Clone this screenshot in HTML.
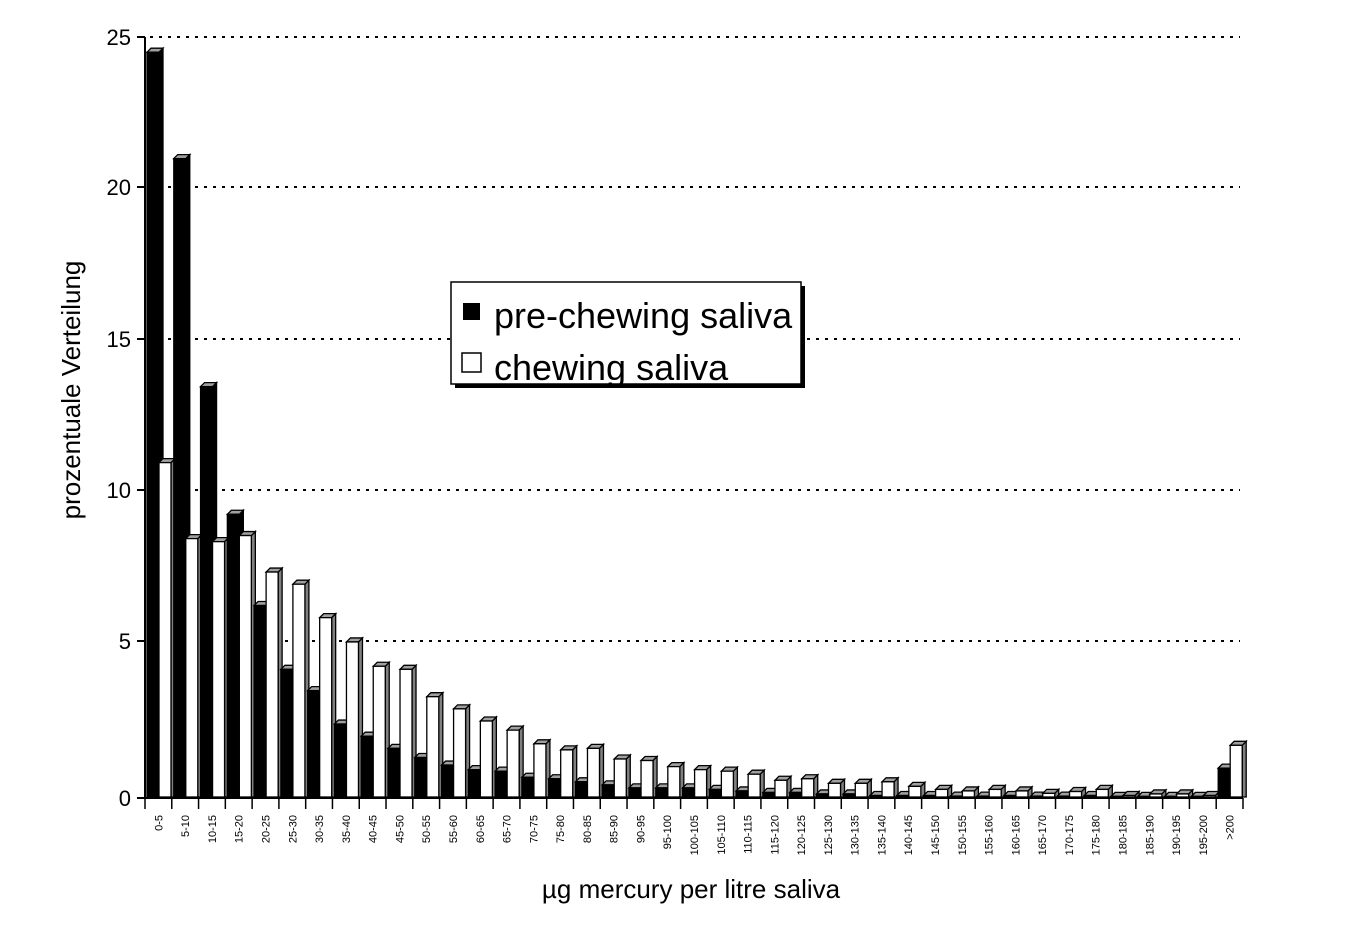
<!DOCTYPE html>
<html><head><meta charset="utf-8"><style>
html,body{margin:0;padding:0;background:#fff;}
svg{display:block;font-family:"Liberation Sans",Arial,sans-serif;}
</style></head><body>
<svg width="1350" height="943" viewBox="0 0 1350 943" xmlns="http://www.w3.org/2000/svg">
<g stroke="#000" stroke-width="2" stroke-dasharray="3,6">
<line x1="150" y1="37" x2="1240" y2="37"/>
<line x1="150" y1="187" x2="1240" y2="187"/>
<line x1="150" y1="339" x2="1240" y2="339"/>
<line x1="150" y1="490" x2="1240" y2="490"/>
<line x1="150" y1="641" x2="1240" y2="641"/>
</g>
<g id="bars"></g>
<g stroke="#000" stroke-width="2">
<line x1="145" y1="37" x2="145" y2="798"/>
<line x1="145" y1="798" x2="1243" y2="798"/>
<line x1="137" y1="37" x2="145" y2="37"/>
<line x1="137" y1="187" x2="145" y2="187"/>
<line x1="137" y1="339" x2="145" y2="339"/>
<line x1="137" y1="490" x2="145" y2="490"/>
<line x1="137" y1="641" x2="145" y2="641"/>
<line x1="137" y1="798" x2="145" y2="798"/>
</g>
<g id="ticks" stroke="#000" stroke-width="1.5"></g>
<g font-size="22" text-anchor="end">
<text x="131" y="45">25</text><text x="131" y="195">20</text><text x="131" y="347">15</text>
<text x="131" y="498">10</text><text x="131" y="649">5</text><text x="131" y="806">0</text>
</g>
<text transform="translate(80,390) rotate(-90)" font-size="26" text-anchor="middle">prozentuale Verteilung</text>
<text x="691" y="898" font-size="26" text-anchor="middle">µg mercury per litre saliva</text>
<g font-size="11" text-anchor="end" id="xl">
<text>0-5</text><text>5-10</text><text>10-15</text><text>15-20</text><text>20-25</text><text>25-30</text><text>30-35</text><text>35-40</text><text>40-45</text><text>45-50</text><text>50-55</text><text>55-60</text><text>60-65</text><text>65-70</text><text>70-75</text><text>75-80</text><text>80-85</text><text>85-90</text><text>90-95</text><text>95-100</text><text>100-105</text><text>105-110</text><text>110-115</text><text>115-120</text><text>120-125</text><text>125-130</text><text>130-135</text><text>135-140</text><text>140-145</text><text>145-150</text><text>150-155</text><text>155-160</text><text>160-165</text><text>165-170</text><text>170-175</text><text>175-180</text><text>180-185</text><text>185-190</text><text>190-195</text><text>195-200</text><text>&gt;200</text>
</g>
<rect x="455" y="286" width="350" height="102" fill="#000"/>
<rect x="451" y="282" width="350" height="102" fill="#fff" stroke="#000" stroke-width="1.5"/>
<rect x="463" y="303" width="17" height="17" fill="#000"/>
<rect x="462" y="353" width="19" height="19" fill="#fff" stroke="#000" stroke-width="1.5"/>
<text x="494" y="328" font-size="36">pre-chewing saliva</text>
<text x="494" y="380" font-size="36">chewing saliva</text>
<script>
var A=[24.5,21,13.5,9.3,6.3,4.2,3.5,2.4,2.0,1.6,1.3,1.05,0.9,0.85,0.65,0.6,0.5,0.4,0.3,0.3,0.3,0.25,0.2,0.15,0.15,0.1,0.1,0.05,0.05,0.05,0.03,0.03,0.05,0.03,0.03,0.05,0.02,0.02,0.02,0.02,0.95];
var B=[11,8.5,8.4,8.6,7.4,7.0,5.9,5.1,4.3,4.2,3.3,2.9,2.5,2.2,1.75,1.55,1.6,1.25,1.2,1.0,0.9,0.85,0.75,0.55,0.6,0.45,0.45,0.5,0.35,0.25,0.2,0.25,0.2,0.12,0.18,0.25,0.05,0.1,0.1,0.05,1.7];
var ns="http://www.w3.org/2000/svg",g=document.getElementById("bars"),tk=document.getElementById("ticks");
function el(p,t,a){var e=document.createElementNS(ns,t);for(var k in a)e.setAttribute(k,a[k]);p.appendChild(e);return e;}
function bar(x,w,v,fill){var y=797-v*30.4,d=4;
el(g,"polygon",{points:(x+w)+","+y+" "+(x+w+d)+","+(y-d)+" "+(x+w+d)+",797 "+(x+w)+",797",fill:fill=="#000"?"#000":"#808080",stroke:"#000","stroke-width":1.3});
el(g,"polygon",{points:x+","+y+" "+(x+d)+","+(y-d)+" "+(x+w+d)+","+(y-d)+" "+(x+w)+","+y,fill:"#a0a0a0",stroke:"#000","stroke-width":1.3});
el(g,"rect",{x:x,y:y,width:w,height:797-y,fill:fill,stroke:"#000","stroke-width":1.3});}
var s=26.78,labs=document.getElementById("xl").children;
for(var i=0;i<41;i++){var t=145+s*i;
bar(t+2,12,A[i],"#000");bar(t+14,12,B[i],"#fff");
el(tk,"line",{x1:t,y1:798,x2:t,y2:809});
labs[i].setAttribute("transform","translate("+(t+s/2+4)+",815) rotate(-90)");}
el(tk,"line",{x1:1243,y1:798,x2:1243,y2:809});
</script>
</svg>
</body></html>
